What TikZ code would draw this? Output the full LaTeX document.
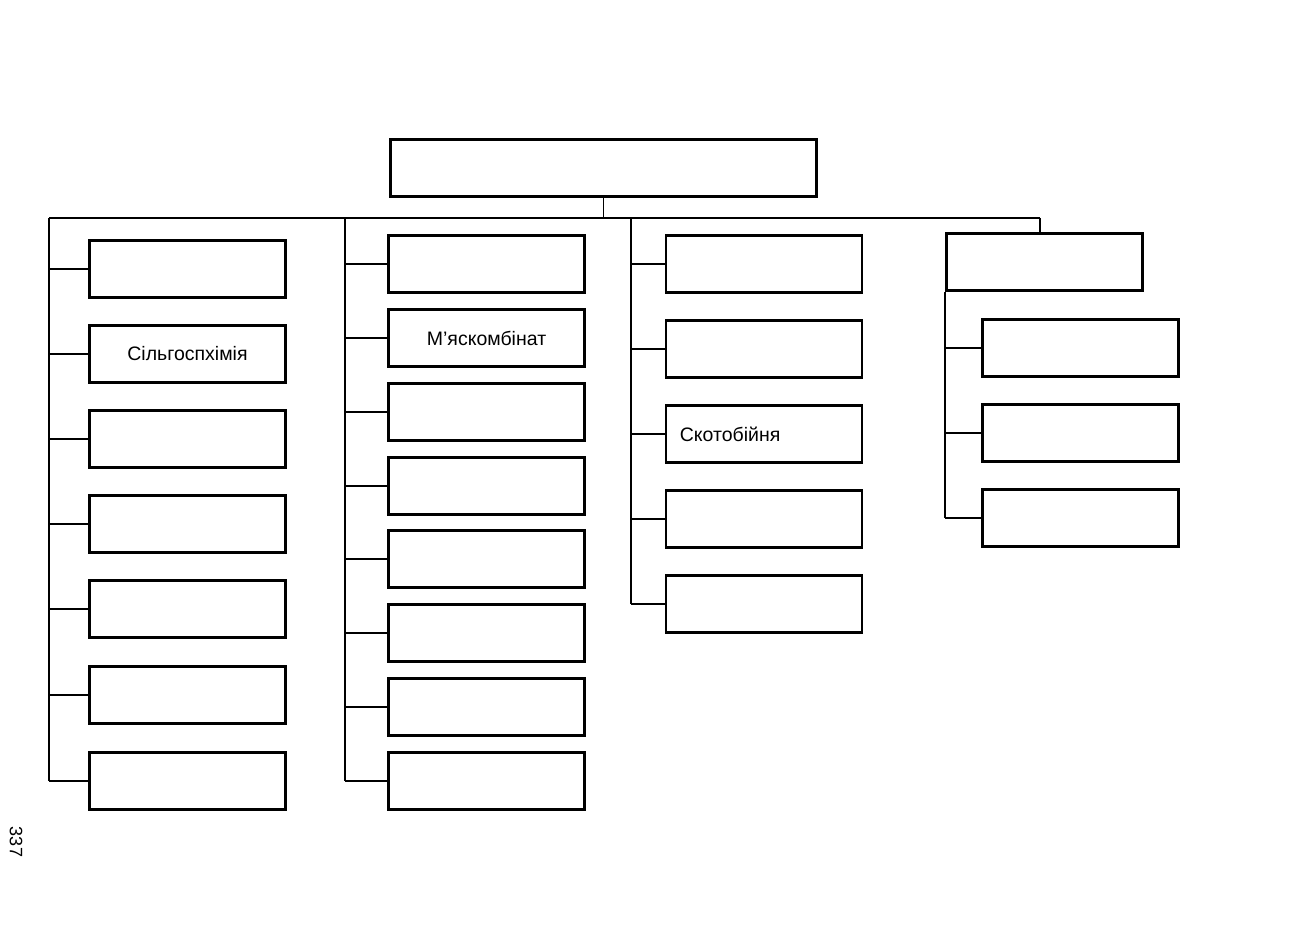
\documentclass[tikz,border=0pt]{standalone}
\usepackage{fontspec}
\setmainfont{Liberation Sans}
\begin{document}
\begin{tikzpicture}[x=1pt,y=-1pt,
  box/.style={draw,line width=2.6pt,minimum width=196pt,minimum height=57pt,inner sep=0pt},
  lbl/.style={font=\fontsize{19.5}{22}\selectfont},
  conn/.style={line width=1.9pt},
  bus/.style={line width=1.4pt}]
\useasboundingbox (0,0) rectangle (1304,936);
% top
\node[box,minimum width=426pt,minimum height=57pt] (top) at (603.5,168) {};
\coordinate (busL) at (49,218);
\coordinate (busR) at (1040,218);
\coordinate (busM) at (603.5,218);
\draw[bus] (busL) -- (busR);
\draw[bus] (top.south) -- (busM);
% column 1
\coordinate (t1) at (49,218);
\foreach \i/\y in {1/269,2/354,3/439,4/524,5/609,6/695,7/781}
  \node[box] (a\i) at (187.5,\y) {};
\node[lbl] (a2t) at (a2) {Сільгоспхімія};
\draw[conn] (t1) -- (t1 |- a7.west);
\foreach \i in {1,...,7} \draw[conn] (a\i.west -| t1) -- (a\i.west);
% column 2
\coordinate (t2) at (345,218);
\foreach \i/\y in {1/264,2/338,3/412,4/486,5/559,6/633,7/707,8/781}
  \node[box] (b\i) at (486.5,\y) {};
\node[lbl] (b2t) at (b2) {М’яскомбінат};
\draw[conn] (t2) -- (t2 |- b8.west);
\foreach \i in {1,...,8} \draw[conn] (b\i.west -| t2) -- (b\i.west);
% column 3
\coordinate (t3) at (631,218);
\foreach \i/\y in {1/264,2/349,3/434,4/519,5/604}
  \node[box] (c\i) at (764,\y) {};
\node[lbl,anchor=west,inner sep=0pt] (c3t) at ([xshift=15pt]c3.west) {Скотобійня};
\draw[conn] (t3) -- (t3 |- c5.west);
\foreach \i in {1,...,5} \draw[conn] (c\i.west -| t3) -- (c\i.west);
% column 4
\node[box] (d0) at (1044.5,262) {};
\draw[bus] (busR) -- (busR |- d0.north);
\foreach \i/\y in {1/348,2/433,3/518}
  \node[box] (d\i) at (1080.5,\y) {};
\draw[conn] (d0.south west) -- (d0.south west |- d3.west);
\foreach \i in {1,...,3} \draw[conn] (d\i.west -| d0.south west) -- (d\i.west);
% page number
\node[rotate=-90,font=\fontsize{18}{20}\selectfont] (pg) at (16,842) {337};
\end{tikzpicture}
\end{document}
